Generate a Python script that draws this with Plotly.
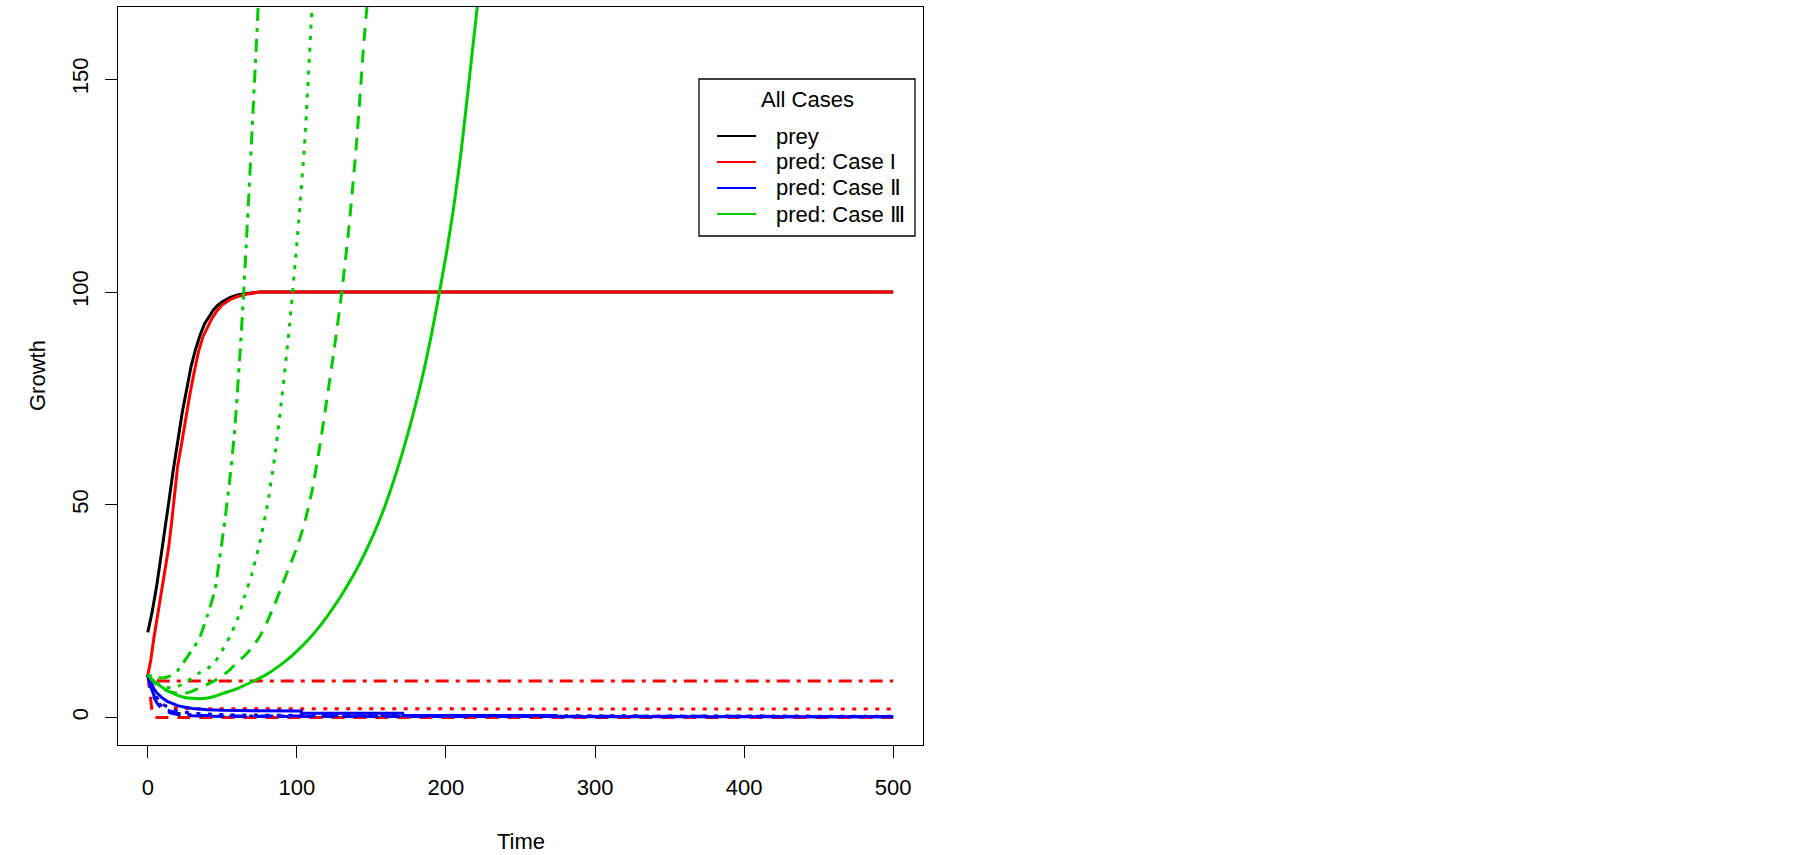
import plotly.graph_objects as go

# 颜色 (R 默认调色)
BLACK = '#000000'
RED = '#FF0000'
BLUE = '#0000FF'
GREEN = '#00CD00'

# R 线型 lty 2/3/4 对应的虚线样式
DASH = '13px,9px'
DOT = '4px,7.5px'
DOTDASH = '4px,7px,13px,7px'

# ---- 数据 ----
# 猎物
t_prey = [0, 3, 6, 9, 12, 14, 17, 20, 23, 26, 29, 32, 35, 38, 41, 44, 47, 50, 55, 60, 65, 70, 75, 500]
prey = [20, 25, 31, 38, 46, 50.5, 58, 65, 71.5, 77, 82.5, 86.5, 89.8, 92.5, 94.3, 95.8, 96.9, 97.7, 98.7, 99.3, 99.6, 99.8, 100, 100]

# 捕食者 Case I
t_red_solid = [0, 2, 4, 6, 8, 10, 12, 14, 16, 18, 20, 22, 25, 28, 31, 34, 37, 40, 43, 46, 50, 55, 60, 65, 70, 75, 500]
red_solid = [10, 13.5, 18.5, 23, 27.5, 32, 36, 40, 46, 53, 59, 63, 69.5, 75.5, 81, 86, 89.5, 91.5, 93.8, 95.4, 97, 98.2, 98.9, 99.4, 99.7, 100, 100]
t_red_dash = [0, 1, 2, 3, 4, 6, 500]
red_dash = [10, 6.5, 3, 1, 0.2, 0, 0]
t_red_dot = [0, 3, 6, 10, 15, 20, 30, 500]
red_dot = [10, 6, 4, 3, 2.5, 2.2, 2.05, 2.0]
t_red_dotdash = [0, 2, 4, 8, 500]
red_dotdash = [10, 9.2, 8.8, 8.6, 8.6]

# 捕食者 Case II
t_blue_solid = [0, 2, 4, 6, 8, 10, 13, 16, 20, 25, 30, 40, 50, 70, 103, 103, 171, 171, 274, 274, 500]
blue_solid = [10, 8.2, 6.8, 5.8, 5.1, 4.5, 3.8, 3.3, 2.8, 2.4, 2.1, 1.85, 1.7, 1.6, 1.55, 1.0, 1.0, 0.45, 0.45, 0.15, 0.15]
t_blue_dash = [0, 2, 4, 6, 8, 10, 13, 16, 20, 30, 50, 500]
blue_dash = [10, 6.8, 4.8, 3.5, 2.6, 2.0, 1.4, 1.0, 0.7, 0.4, 0.25, 0.2]
t_blue_dot = [0, 2, 4, 6, 8, 10, 13, 16, 20, 25, 30, 40, 60, 100, 500]
blue_dot = [10, 7.5, 5.8, 4.6, 3.7, 3.1, 2.4, 1.9, 1.5, 1.2, 1.0, 0.8, 0.6, 0.5, 0.3]
t_blue_dotdash = [0, 2, 4, 6, 8, 10, 13, 16, 20, 30, 50, 500]
blue_dotdash = [10, 7.2, 5.3, 4.0, 3.1, 2.5, 1.8, 1.4, 1.0, 0.6, 0.35, 0.25]

# 捕食者 Case III
t_green_solid = [0, 5, 10, 15, 20, 25, 30, 35, 40, 45, 50, 60, 70, 80, 90, 95, 100, 105, 110, 115, 120, 125, 130,
                 135, 140, 145, 150, 155, 160, 165, 170, 175, 180, 185, 190, 195, 200, 205, 210, 215, 221]
green_solid = [10, 8.3, 7, 6, 5.2, 4.7, 4.5, 4.4, 4.6, 5, 5.6, 6.8, 8.4, 10.2, 12.6, 14.0, 15.6, 17.3, 19.2, 21.3, 23.6, 26.1, 28.8,
               31.7, 34.8, 38.2, 41.9, 46.0, 50.6, 55.7, 61.3, 67.4, 74.0, 81.3, 89.5, 98.8, 108.5, 119.5, 132.5, 148, 167]
t_green_dash = [0, 5, 10, 15, 20, 25, 30, 35, 40, 45, 50, 55, 60, 65, 70, 75, 80, 85, 90, 95, 100, 105, 110, 115, 120, 125, 130, 135, 140, 145, 147]
green_dash = [10, 8, 6.8, 6, 5.7, 5.7, 6.2, 7, 7.8, 8.7, 9.8, 11.2, 13, 14.5, 16.5, 19, 22.5, 26.5, 31, 35.5, 40, 45.5, 53, 63, 74.5, 86.5, 99.7, 115.5, 135, 159, 167]
t_green_dot = [0, 5, 10, 15, 20, 25, 30, 35, 40, 45, 50, 55, 60, 65, 70, 75, 80, 85, 90, 95, 100, 105, 110]
green_dot = [10, 8.3, 7.3, 7.0, 7.3, 8.2, 9.3, 10.6, 11.5, 13, 15.8, 19, 23, 28.5, 34, 41, 49.5, 61, 75.5, 92, 111.5, 134, 166]
t_green_dotdash = [0, 5, 10, 15, 20, 25, 30, 35, 40, 45, 48, 51, 55, 58, 60, 62, 64, 66, 68, 70, 72, 74]
green_dotdash = [10, 9.5, 9.3, 9.8, 11, 13.5, 16, 19, 24, 30, 37, 44.5, 56, 66.5, 76, 86.5, 98, 111, 124.5, 138.5, 152.5, 167]

# 图例
legend_title = 'All Cases'
legend_labels = ['prey', 'pred: Case I', 'pred: Case Ⅱ', 'pred: Case Ⅲ']
legend_colors = [BLACK, RED, BLUE, GREEN]

x_ticks = [0, 100, 200, 300, 400, 500]
y_ticks = [0, 50, 100, 150]

# 绘制顺序: 猎物, Case I, Case II, Case III
series = [
    (t_prey, prey, BLACK, 'solid', 'linear'),
    (t_red_solid, red_solid, RED, 'solid', 'linear'),
    (t_red_dash, red_dash, RED, DASH, 'linear'),
    (t_red_dot, red_dot, RED, DOT, 'linear'),
    (t_red_dotdash, red_dotdash, RED, DOTDASH, 'linear'),
    (t_blue_solid, blue_solid, BLUE, 'solid', 'linear'),
    (t_blue_dash, blue_dash, BLUE, DASH, 'linear'),
    (t_blue_dot, blue_dot, BLUE, DOT, 'linear'),
    (t_blue_dotdash, blue_dotdash, BLUE, DOTDASH, 'linear'),
    (t_green_solid, green_solid, GREEN, 'solid', 'spline'),
    (t_green_dash, green_dash, GREEN, DASH, 'spline'),
    (t_green_dot, green_dot, GREEN, DOT, 'spline'),
    (t_green_dotdash, green_dotdash, GREEN, DOTDASH, 'spline'),
]

FONT = 'Liberation Sans, Arial, sans-serif'
W, H = 1805, 855
ML, MR, MT, MB = 118, 882, 7, 110


def px(x):
    """像素 -> paper x"""
    return (x - ML) / (W - ML - MR)


def py(y):
    """像素 -> paper y"""
    return (H - MB - y) / (H - MT - MB)


fig = go.Figure()

for t, y, color, dash, shape in series:
    fig.add_trace(go.Scatter(x=t, y=y, mode='lines', showlegend=False, hoverinfo='skip',
                             line=dict(color=color, width=3, dash=dash, shape=shape, smoothing=0.6)))

fig.update_layout(
    width=W, height=H,
    margin=dict(l=ML, r=MR, t=MT, b=MB),
    paper_bgcolor='white', plot_bgcolor='white',
    font=dict(family=FONT, size=22, color='black'),
    showlegend=False,
)

fig.update_xaxes(range=[-20, 520], tickvals=x_ticks, ticks='outside', ticklen=12, tickwidth=1.3,
                 tickcolor='black', showline=True, linecolor='black', linewidth=1.3, mirror=True,
                 showgrid=False, zeroline=False, tickfont=dict(size=22), ticklabelstandoff=10)
fig.update_yaxes(range=[-6.46, 166.98], tickvals=y_ticks, ticks='outside', ticklen=12, tickwidth=1.3,
                 tickcolor='black', showline=True, linecolor='black', linewidth=1.3, mirror=True,
                 showgrid=False, zeroline=False, tickangle=-90, tickfont=dict(size=22),
                 ticklabelstandoff=8)

# 坐标轴标题
fig.add_annotation(text='Time', xref='paper', yref='paper', x=0.5, y=py(841),
                   xanchor='center', yanchor='middle', showarrow=False, font=dict(size=22))
fig.add_annotation(text='Growth', xref='paper', yref='paper', x=px(37), y=0.5, textangle=-90,
                   xanchor='center', yanchor='middle', showarrow=False, font=dict(size=22))

# 图例 (R 风格: 标题居中, 实线样例)
fig.add_shape(type='rect', xref='paper', yref='paper', x0=px(699), x1=px(915), y0=py(236), y1=py(79),
              line=dict(color='black', width=1.3), fillcolor='white', layer='above')
fig.add_annotation(text=legend_title, xref='paper', yref='paper', x=px(807), y=py(99),
                   xanchor='center', yanchor='middle', showarrow=False, font=dict(size=22))
for i, (label, color) in enumerate(zip(legend_labels, legend_colors)):
    yc = 136 + i * 26
    fig.add_shape(type='line', xref='paper', yref='paper', x0=px(717), x1=px(756), y0=py(yc), y1=py(yc),
                  line=dict(color=color, width=2), layer='above')
    fig.add_annotation(text=label, xref='paper', yref='paper', x=px(774), y=py(yc),
                       xanchor='left', yanchor='middle', showarrow=False, font=dict(size=22))

# 去掉页面默认边距
fig.write_html('out.html', config={'displayModeBar': False},
               post_script="document.body.style.margin='0px';")
